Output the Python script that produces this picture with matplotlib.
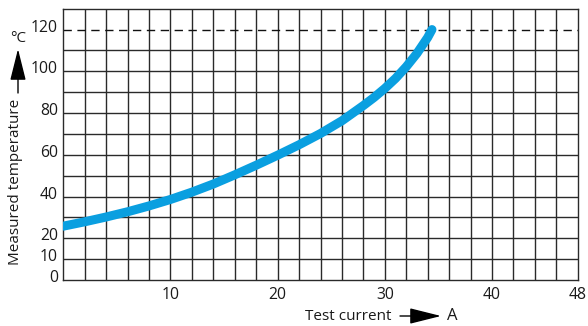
import matplotlib
matplotlib.use("Agg")
import matplotlib.pyplot as plt
import matplotlib.transforms as mtransforms
import numpy as np

plt.rcParams['font.family'] = ['Open Sans', 'DejaVu Sans']

# Data
current = [0, 2, 4, 6, 8, 10, 12, 14, 16, 18, 20, 22, 24, 26, 28, 29, 30, 31, 32, 33, 34, 34.4]
temperature = [25.8, 27.9, 30.2, 32.7, 35.5, 38.6, 42.1, 46.0, 50.4, 55.0, 59.8,
               64.8, 70.2, 76.3, 83.6, 87.5, 91.8, 96.6, 102.2, 108.6, 116.2, 120.0]
x_ticks = [10, 20, 30, 40, 48]
y_ticks = [0, 10, 20, 40, 60, 80, 100, 120]
limit_temp = 120

FS = 11
TXT = '#1a1a1a'

fig = plt.figure(figsize=(5.88, 3.26), dpi=100)
ax = fig.add_axes([0.1077, 0.1411, 0.9825 - 0.1077, 0.9733 - 0.1411])
ax.set_xlim(0, 48)
ax.set_ylim(0, 130)

grid_kw = dict(color='#2a2a2a', lw=1.0, zorder=1)
for xv in np.arange(2, 48, 2):
    ax.axvline(xv, **grid_kw)
for yv in np.arange(10, 130, 10):
    if yv != limit_temp:
        ax.axhline(yv, **grid_kw)
ax.axhline(limit_temp, color='#111111', lw=1.0, dashes=(6, 4), zorder=1)

ax.plot(current, temperature, color='#0a9fe0', lw=6.5, solid_capstyle='round',
        solid_joinstyle='round', zorder=3)

for s in ax.spines.values():
    s.set_color('#2a2a2a')
    s.set_linewidth(1.0)

ax.set_xticks(x_ticks)
ax.set_yticks(y_ticks)
ax.tick_params(length=0, labelsize=FS + 0.3, colors=TXT)
ax.tick_params(axis='x', pad=5)
ax.tick_params(axis='y', pad=4)
off = mtransforms.ScaledTranslation(0, 4 / 100, fig.dpi_scale_trans)
for lab in ax.get_yticklabels():
    lab.set_transform(lab.get_transform() + off)

arrow_style = '-|>,head_length=1.4,head_width=0.35'

# x label with arrow
yx = 1 - 316 / 326
fig.text(305 / 588, yx, 'Test current', fontsize=FS, color=TXT, ha='left', va='center')
fig.add_artist(matplotlib.patches.FancyArrowPatch(
    (400 / 588, yx), (441 / 588, yx),
    transform=fig.transFigure, arrowstyle=arrow_style,
    mutation_scale=14, color='black', lw=1.0, shrinkA=0, shrinkB=0))
fig.text(447 / 588, 1 - 316 / 326, 'A', fontsize=FS + 1, color=TXT, ha='left', va='center')

# y label with arrow
xy = 16 / 588
fig.text(xy, 1 - 182 / 326, 'Measured temperature', fontsize=FS, color=TXT,
         rotation=90, ha='center', va='center')
fig.add_artist(matplotlib.patches.FancyArrowPatch(
    ((xy * 588 + 2) / 588, 1 - 93 / 326), ((xy * 588 + 2) / 588, 1 - 49 / 326),
    transform=fig.transFigure, arrowstyle=arrow_style,
    mutation_scale=14, color='black', lw=1.0, shrinkA=0, shrinkB=0))
fig.text(18 / 588, 1 - 38 / 326, '°C', fontsize=FS, color=TXT, ha='center', va='center')

fig.savefig('out.png', dpi=100)
